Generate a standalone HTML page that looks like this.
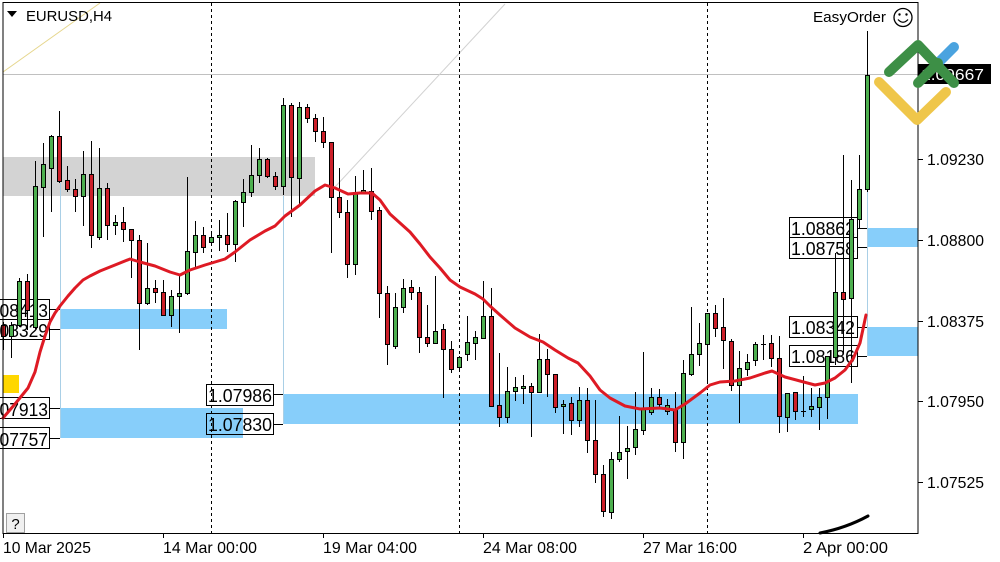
<!DOCTYPE html>
<html><head><meta charset="utf-8"><style>
html,body{margin:0;padding:0;background:#fff;}
svg{display:block;}
text{font-family:"Liberation Sans",sans-serif;}
</style></head><body>
<svg width="1000" height="562" viewBox="0 0 1000 562" xmlns="http://www.w3.org/2000/svg">
<rect x="0" y="0" width="1000" height="562" fill="#fff"/>
<rect x="3" y="157" width="312" height="39" fill="#D3D3D3"/>
<rect x="60" y="309" width="167" height="20" fill="#87CEFA"/>
<rect x="60" y="408" width="183" height="30" fill="#87CEFA"/>
<rect x="283" y="394" width="575" height="30" fill="#87CEFA"/>
<rect x="867" y="228" width="51" height="19" fill="#87CEFA"/>
<rect x="867" y="327" width="51" height="29" fill="#87CEFA"/>
<g stroke="#A9CFE6" stroke-width="1">
<line x1="60.5" y1="183" x2="60.5" y2="438"/>
<line x1="283.5" y1="196" x2="283.5" y2="424"/>
<line x1="867.5" y1="190" x2="867.5" y2="356"/>
</g>
<line x1="3" y1="74.5" x2="918" y2="74.5" stroke="#C0C0C0" stroke-width="1"/>
<line x1="3" y1="72" x2="100" y2="3" stroke="#E6D68C" stroke-width="1"/>
<line x1="335" y1="187" x2="505" y2="4" stroke="#D2D2D2" stroke-width="1"/>
<g stroke="#000" stroke-width="1" stroke-dasharray="3,3">
<line x1="211.5" y1="3" x2="211.5" y2="533"/>
<line x1="459.5" y1="3" x2="459.5" y2="533"/>
<line x1="707.5" y1="3" x2="707.5" y2="533"/>
</g>
<rect x="3" y="375" width="16" height="18" fill="#FFD700"/>
<g stroke="#000" stroke-width="1" fill="none">
<rect x="-20.5" y="299.5" width="70" height="20"/>
<rect x="-20.5" y="319.5" width="70" height="20"/>
<rect x="-20.5" y="397.5" width="70" height="21"/>
<rect x="-20.5" y="427.5" width="70" height="21"/>
<rect x="206.5" y="384.5" width="67" height="21"/>
<rect x="206.5" y="413.5" width="67" height="21"/>
<rect x="789.5" y="217.5" width="68" height="20"/>
<rect x="789.5" y="237.5" width="68" height="21"/>
<rect x="789.5" y="316.5" width="68" height="21"/>
<rect x="789.5" y="345.5" width="68" height="21"/>
<path d="M50 309.5H60M50 329.5H60M50 408.5H60M50 438.5H60M274 394.5H283M274 424.5H283M858 228.5H867M858 247.5H867M858 327.5H867M858 356.5H867"/>
</g>
<g font-size="18" fill="#000">
<text x="48" y="317" text-anchor="end" textLength="63" lengthAdjust="spacingAndGlyphs">1.08413</text>
<text x="48" y="337" text-anchor="end" textLength="63" lengthAdjust="spacingAndGlyphs">1.08329</text>
<text x="48" y="416" text-anchor="end" textLength="63" lengthAdjust="spacingAndGlyphs">1.07913</text>
<text x="48" y="446" text-anchor="end" textLength="63" lengthAdjust="spacingAndGlyphs">1.07757</text>
<text x="208" y="402" textLength="64" lengthAdjust="spacingAndGlyphs">1.07986</text>
<text x="208" y="431" textLength="64" lengthAdjust="spacingAndGlyphs">1.07830</text>
<text x="791" y="235" textLength="64" lengthAdjust="spacingAndGlyphs">1.08862</text>
<text x="791" y="255" textLength="64" lengthAdjust="spacingAndGlyphs">1.08758</text>
<text x="791" y="334" textLength="64" lengthAdjust="spacingAndGlyphs">1.08342</text>
<text x="791" y="363" textLength="64" lengthAdjust="spacingAndGlyphs">1.08186</text>
</g>
<path stroke="#000" stroke-width="1" fill="none" d="M3.5 322V350M11.5 322V358M19.5 278V327M27.5 274V330M35.5 161V329M43.5 143V237M51.5 135V212M59.5 111V183M67.5 166V192M75.5 179V212M83.5 151V226M91.5 141V248M99.5 148V240M107.5 183V240M115.5 215V235M123.5 207V242M131.5 229V278M139.5 235V350M147.5 243V305M155.5 280V303M163.5 280V316M171.5 290V327M179.5 275V333M187.5 177V295M195.5 221V267M203.5 227V253M211.5 233V244M219.5 220V251M227.5 213V252M235.5 200V262M243.5 179V227M251.5 145V197M259.5 148V183M267.5 158V178M275.5 172V190M283.5 98V195M291.5 103V217M299.5 102V207M307.5 104V123M315.5 114V142M323.5 117V148M331.5 142V253M339.5 168V218M347.5 200V278M355.5 176V275M363.5 170V193M371.5 168V220M379.5 207V318M387.5 286V365M395.5 293V349M403.5 279V313M411.5 280V300M419.5 287V353M427.5 305V347M435.5 276V344M443.5 324V398M451.5 341V373M459.5 356V371M467.5 316V361M475.5 331V360M483.5 281V339M491.5 288V407M499.5 353V427M507.5 367V423M515.5 377V401M523.5 375V404M531.5 383V437M539.5 334V393M547.5 349V397M555.5 374V413M563.5 400V434M571.5 397V435M579.5 387V427M587.5 388V453M595.5 400V483M603.5 465V517M611.5 452V519M619.5 416V462M627.5 426V479M635.5 392V455M643.5 352V435M651.5 388V415M659.5 389V408M667.5 399V415M675.5 392V452M683.5 360V459M691.5 307V376M699.5 323V366M707.5 313V383M715.5 305V337M723.5 298V369M731.5 339V391M739.5 351V423M747.5 354V376M755.5 342V366M763.5 335V360M771.5 335V367M779.5 336V433M787.5 393V432M795.5 392V420M803.5 376V417M811.5 388V417M819.5 388V430M827.5 356V419M835.5 253V365M843.5 155V354M851.5 180V383M859.5 155V228M867.5 31V192M761 344.5H766M801 411.5H806"/>
<g fill="#4DAF4F" stroke="#000" stroke-width="1">
<rect x="9.5" y="325.5" width="4" height="11"/>
<rect x="17.5" y="281.5" width="4" height="44"/>
<rect x="33.5" y="186.5" width="4" height="141"/>
<rect x="41.5" y="164.5" width="4" height="23"/>
<rect x="49.5" y="136.5" width="4" height="32"/>
<rect x="81.5" y="174.5" width="4" height="22"/>
<rect x="97.5" y="188.5" width="4" height="49"/>
<rect x="113.5" y="222.5" width="4" height="3"/>
<rect x="145.5" y="288.5" width="4" height="15"/>
<rect x="169.5" y="296.5" width="4" height="19"/>
<rect x="177.5" y="293.5" width="4" height="3"/>
<rect x="185.5" y="251.5" width="4" height="42"/>
<rect x="193.5" y="235.5" width="4" height="17"/>
<rect x="209.5" y="237.5" width="4" height="5"/>
<rect x="217.5" y="235.5" width="4" height="2"/>
<rect x="233.5" y="201.5" width="4" height="43"/>
<rect x="241.5" y="192.5" width="4" height="10"/>
<rect x="249.5" y="175.5" width="4" height="17"/>
<rect x="257.5" y="159.5" width="4" height="16"/>
<rect x="281.5" y="105.5" width="4" height="81"/>
<rect x="297.5" y="107.5" width="4" height="71"/>
<rect x="353.5" y="192.5" width="4" height="72"/>
<rect x="361.5" y="190.5" width="4" height="2"/>
<rect x="393.5" y="307.5" width="4" height="39"/>
<rect x="401.5" y="288.5" width="4" height="19"/>
<rect x="433.5" y="331.5" width="4" height="12"/>
<rect x="457.5" y="357.5" width="4" height="10"/>
<rect x="465.5" y="342.5" width="4" height="12"/>
<rect x="473.5" y="337.5" width="4" height="6"/>
<rect x="481.5" y="316.5" width="4" height="22"/>
<rect x="505.5" y="391.5" width="4" height="26"/>
<rect x="513.5" y="387.5" width="4" height="4"/>
<rect x="521.5" y="386.5" width="4" height="2"/>
<rect x="537.5" y="359.5" width="4" height="33"/>
<rect x="561.5" y="404.5" width="4" height="2"/>
<rect x="577.5" y="400.5" width="4" height="20"/>
<rect x="609.5" y="459.5" width="4" height="53"/>
<rect x="617.5" y="452.5" width="4" height="7"/>
<rect x="625.5" y="448.5" width="4" height="3"/>
<rect x="633.5" y="429.5" width="4" height="18"/>
<rect x="641.5" y="408.5" width="4" height="22"/>
<rect x="649.5" y="397.5" width="4" height="15"/>
<rect x="665.5" y="405.5" width="4" height="6"/>
<rect x="681.5" y="373.5" width="4" height="69"/>
<rect x="689.5" y="354.5" width="4" height="20"/>
<rect x="697.5" y="343.5" width="4" height="11"/>
<rect x="705.5" y="313.5" width="4" height="31"/>
<rect x="737.5" y="368.5" width="4" height="17"/>
<rect x="745.5" y="362.5" width="4" height="7"/>
<rect x="753.5" y="344.5" width="4" height="16"/>
<rect x="785.5" y="393.5" width="4" height="24"/>
<rect x="809.5" y="406.5" width="4" height="3"/>
<rect x="817.5" y="397.5" width="4" height="10"/>
<rect x="825.5" y="356.5" width="4" height="41"/>
<rect x="833.5" y="292.5" width="4" height="65"/>
<rect x="849.5" y="219.5" width="4" height="79"/>
<rect x="857.5" y="189.5" width="4" height="30"/>
<rect x="865.5" y="75.5" width="4" height="114"/>
</g>
<g fill="#CC1F29" stroke="#000" stroke-width="1">
<rect x="1.5" y="325.5" width="4" height="11"/>
<rect x="25.5" y="281.5" width="4" height="29"/>
<rect x="57.5" y="136.5" width="4" height="45"/>
<rect x="65.5" y="180.5" width="4" height="9"/>
<rect x="73.5" y="189.5" width="4" height="7"/>
<rect x="89.5" y="174.5" width="4" height="61"/>
<rect x="105.5" y="188.5" width="4" height="37"/>
<rect x="121.5" y="222.5" width="4" height="7"/>
<rect x="129.5" y="229.5" width="4" height="11"/>
<rect x="137.5" y="240.5" width="4" height="63"/>
<rect x="153.5" y="288.5" width="4" height="4"/>
<rect x="161.5" y="292.5" width="4" height="23"/>
<rect x="201.5" y="235.5" width="4" height="12"/>
<rect x="225.5" y="235.5" width="4" height="9"/>
<rect x="265.5" y="159.5" width="4" height="17"/>
<rect x="273.5" y="176.5" width="4" height="10"/>
<rect x="289.5" y="105.5" width="4" height="72"/>
<rect x="305.5" y="107.5" width="4" height="11"/>
<rect x="313.5" y="118.5" width="4" height="13"/>
<rect x="321.5" y="131.5" width="4" height="11"/>
<rect x="329.5" y="142.5" width="4" height="55"/>
<rect x="337.5" y="197.5" width="4" height="15"/>
<rect x="345.5" y="212.5" width="4" height="52"/>
<rect x="369.5" y="191.5" width="4" height="20"/>
<rect x="377.5" y="210.5" width="4" height="83"/>
<rect x="385.5" y="293.5" width="4" height="51"/>
<rect x="409.5" y="287.5" width="4" height="5"/>
<rect x="417.5" y="292.5" width="4" height="45"/>
<rect x="425.5" y="337.5" width="4" height="6"/>
<rect x="441.5" y="329.5" width="4" height="20"/>
<rect x="449.5" y="349.5" width="4" height="20"/>
<rect x="489.5" y="316.5" width="4" height="90"/>
<rect x="497.5" y="405.5" width="4" height="12"/>
<rect x="529.5" y="386.5" width="4" height="6"/>
<rect x="545.5" y="359.5" width="4" height="15"/>
<rect x="553.5" y="374.5" width="4" height="33"/>
<rect x="569.5" y="403.5" width="4" height="17"/>
<rect x="585.5" y="400.5" width="4" height="40"/>
<rect x="593.5" y="440.5" width="4" height="34"/>
<rect x="601.5" y="474.5" width="4" height="37"/>
<rect x="657.5" y="397.5" width="4" height="7"/>
<rect x="673.5" y="409.5" width="4" height="33"/>
<rect x="713.5" y="313.5" width="4" height="15"/>
<rect x="721.5" y="327.5" width="4" height="13"/>
<rect x="729.5" y="341.5" width="4" height="44"/>
<rect x="769.5" y="343.5" width="4" height="15"/>
<rect x="777.5" y="358.5" width="4" height="58"/>
<rect x="793.5" y="392.5" width="4" height="19"/>
<rect x="841.5" y="292.5" width="4" height="7"/>
</g>
<polyline fill="none" stroke="#DE1A24" stroke-width="3" stroke-linejoin="round" stroke-linecap="round" points="3,418 15,404 28,388 35,372 40,352 45,336 50,322 55,313 60,306 68,296 75,288 83,280 90,276 100,271 115,265 130,259 140,262 155,266 170,272 180,275 190,270 205,265 225,259 235,252 250,240 265,231 275,226 285,216 300,205 315,191 325,185 335,188 348,194 360,193 372,193 380,200 390,214 400,223 410,232 420,244 430,257 440,268 450,280 460,287 475,294 483,299 490,306 500,315 515,328 530,337 543,342 555,350 568,358 578,363 590,376 600,390 610,398 625,406 640,409 660,408 675,410 685,404 700,393 710,385 720,382 735,381 750,378 765,373 772,371 785,377 800,381 815,385 825,383 835,378 845,370 853,359 860,343 866,315"/>
<path d="M820 533 Q846 528 868 516" stroke="#000" stroke-width="3" fill="none" stroke-linecap="round"/>
<rect x="3" y="2.5" width="915" height="531" fill="none" stroke="#000" stroke-width="1"/>
<path stroke="#000" stroke-width="1" d="M918 159.5H923M918 240.5H923M918 321.5H923M918 401.5H923M918 482.5H923"/>
<g font-size="16" fill="#000">
<text x="927" y="165" textLength="57" lengthAdjust="spacingAndGlyphs">1.09230</text>
<text x="927" y="246" textLength="57" lengthAdjust="spacingAndGlyphs">1.08800</text>
<text x="927" y="327" textLength="57" lengthAdjust="spacingAndGlyphs">1.08375</text>
<text x="927" y="407" textLength="57" lengthAdjust="spacingAndGlyphs">1.07950</text>
<text x="927" y="488" textLength="57" lengthAdjust="spacingAndGlyphs">1.07525</text>
</g>
<rect x="918" y="64" width="73" height="20" fill="#000"/>
<text x="921" y="80" font-size="16" fill="#fff" textLength="63" lengthAdjust="spacingAndGlyphs">1.09667</text>
<path stroke="#000" stroke-width="1" d="M3.5 533V538M163.5 533V538M323.5 533V538M483.5 533V538M643.5 533V538M803.5 533V538"/>
<g font-size="16" fill="#000">
<text x="3" y="553" textLength="88" lengthAdjust="spacingAndGlyphs">10 Mar 2025</text>
<text x="163" y="553" textLength="94" lengthAdjust="spacingAndGlyphs">14 Mar 00:00</text>
<text x="323" y="553" textLength="94" lengthAdjust="spacingAndGlyphs">19 Mar 04:00</text>
<text x="483" y="553" textLength="94" lengthAdjust="spacingAndGlyphs">24 Mar 08:00</text>
<text x="643" y="553" textLength="94" lengthAdjust="spacingAndGlyphs">27 Mar 16:00</text>
<text x="803" y="553" textLength="85" lengthAdjust="spacingAndGlyphs">2 Apr 00:00</text>
</g>
<path d="M7 11H17L12 17Z" fill="#000"/>
<text x="26" y="21" font-size="15" fill="#000" textLength="86" lengthAdjust="spacingAndGlyphs">EURUSD,H4</text>
<text x="813" y="22" font-size="15" fill="#000" textLength="73" lengthAdjust="spacingAndGlyphs">EasyOrder</text>
<circle cx="903" cy="17.5" r="9" fill="none" stroke="#000" stroke-width="1.3"/>
<circle cx="899.5" cy="14.5" r="1.2" fill="#000"/>
<circle cx="906.5" cy="14.5" r="1.2" fill="#000"/>
<path d="M898 19.5 Q903 25 908 19.5" fill="none" stroke="#000" stroke-width="1.3"/>
<g fill="none" stroke-linecap="round" stroke-linejoin="round" stroke-width="10">
<polyline points="879,82 917,120 946,92" stroke="#EFC64A"/>
<line x1="937" y1="64" x2="954" y2="47" stroke="#4AA3DF"/>
<polyline points="889,72 918,45 954,83" stroke="#3D8F46"/>
<line x1="918" y1="83" x2="938" y2="63" stroke="#3D8F46"/>
</g>
<rect x="6.5" y="513.5" width="18" height="19" fill="#F0F0F0" stroke="#A0A0A0" stroke-width="1"/>
<text x="15.5" y="529" font-size="15" text-anchor="middle" fill="#000">?</text>
</svg>
</body></html>
